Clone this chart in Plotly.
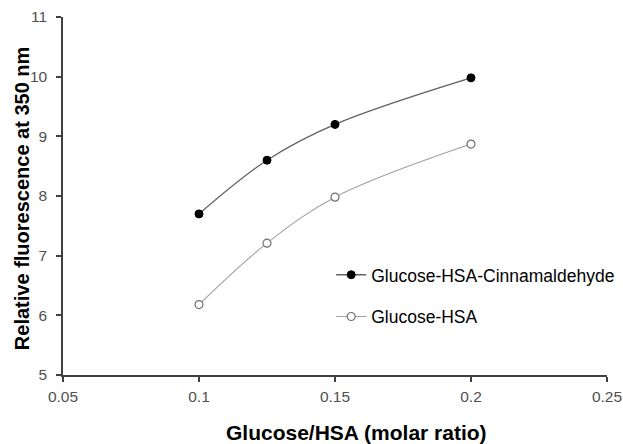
import plotly.graph_objects as go

x_vals = [0.1, 0.125, 0.15, 0.2]
cinnamaldehyde = [7.7, 8.6, 9.2, 9.98]
glucose_hsa = [6.18, 7.21, 7.98, 8.87]

series_names = ["Glucose-HSA-Cinnamaldehyde", "Glucose-HSA"]
x_ticks = [0.05, 0.1, 0.15, 0.2, 0.25]
x_tick_text = ["0.05", "0.1", "0.15", "0.2", "0.25"]
y_ticks = [5, 6, 7, 8, 9, 10, 11]
x_title = "Glucose/HSA (molar ratio)"
y_title = "Relative fluorescence at 350 nm"

FONT = "Liberation Sans, Arial"

fig = go.Figure()
fig.add_trace(go.Scatter(
    x=x_vals, y=cinnamaldehyde, name=series_names[0], mode="lines+markers",
    legendgroup="a",
    line=dict(color="#606060", width=1.3, shape="spline"),
    marker=dict(symbol="circle", size=8, color="black", line=dict(color="black", width=1)),
))
fig.add_trace(go.Scatter(
    x=x_vals, y=glucose_hsa, name=series_names[1], mode="lines+markers",
    legendgroup="b",
    line=dict(color="#a0a0a0", width=1.1, shape="spline"),
    marker=dict(symbol="circle", size=8, color="white", line=dict(color="#707070", width=1.2)),
))

axis_common = dict(
    showline=True, linecolor="#404040", linewidth=1.5, ticks="outside", ticklen=5,
    tickcolor="#404040", tickwidth=1.5, showgrid=False, zeroline=False,
    tickfont=dict(family=FONT, size=15.5, color="#505050"),
    mirror=False, automargin=False,
)
fig.update_xaxes(range=[0.05, 0.25], tickvals=x_ticks, ticktext=x_tick_text,
                 ticklabelstandoff=2, **axis_common)
fig.update_yaxes(range=[5, 11], tickvals=y_ticks, ticklabelstandoff=6, **axis_common)

fig.add_annotation(text="<b>" + x_title + "</b>", xref="paper", yref="paper",
                   x=0.539, y=-0.162, xanchor="center", yanchor="middle", showarrow=False,
                   font=dict(family=FONT, size=21, color="black"))
fig.add_annotation(text="<b>" + y_title + "</b>", xref="paper", yref="paper",
                   x=-0.0754, y=0.494, xanchor="center", yanchor="middle", showarrow=False,
                   textangle=-90, font=dict(family=FONT, size=20, color="black"))

fig.update_layout(
    width=623, height=444,
    margin=dict(l=63, r=16, t=17, b=69, autoexpand=False),
    plot_bgcolor="white", paper_bgcolor="white",
    showlegend=True,
    legend=dict(x=0.493, y=0.330, xanchor="left", yanchor="top",
                font=dict(family=FONT, size=17.5, color="black"),
                itemwidth=30, tracegroupgap=16, bgcolor="rgba(0,0,0,0)"),
)
fig.write_html("out.html")
